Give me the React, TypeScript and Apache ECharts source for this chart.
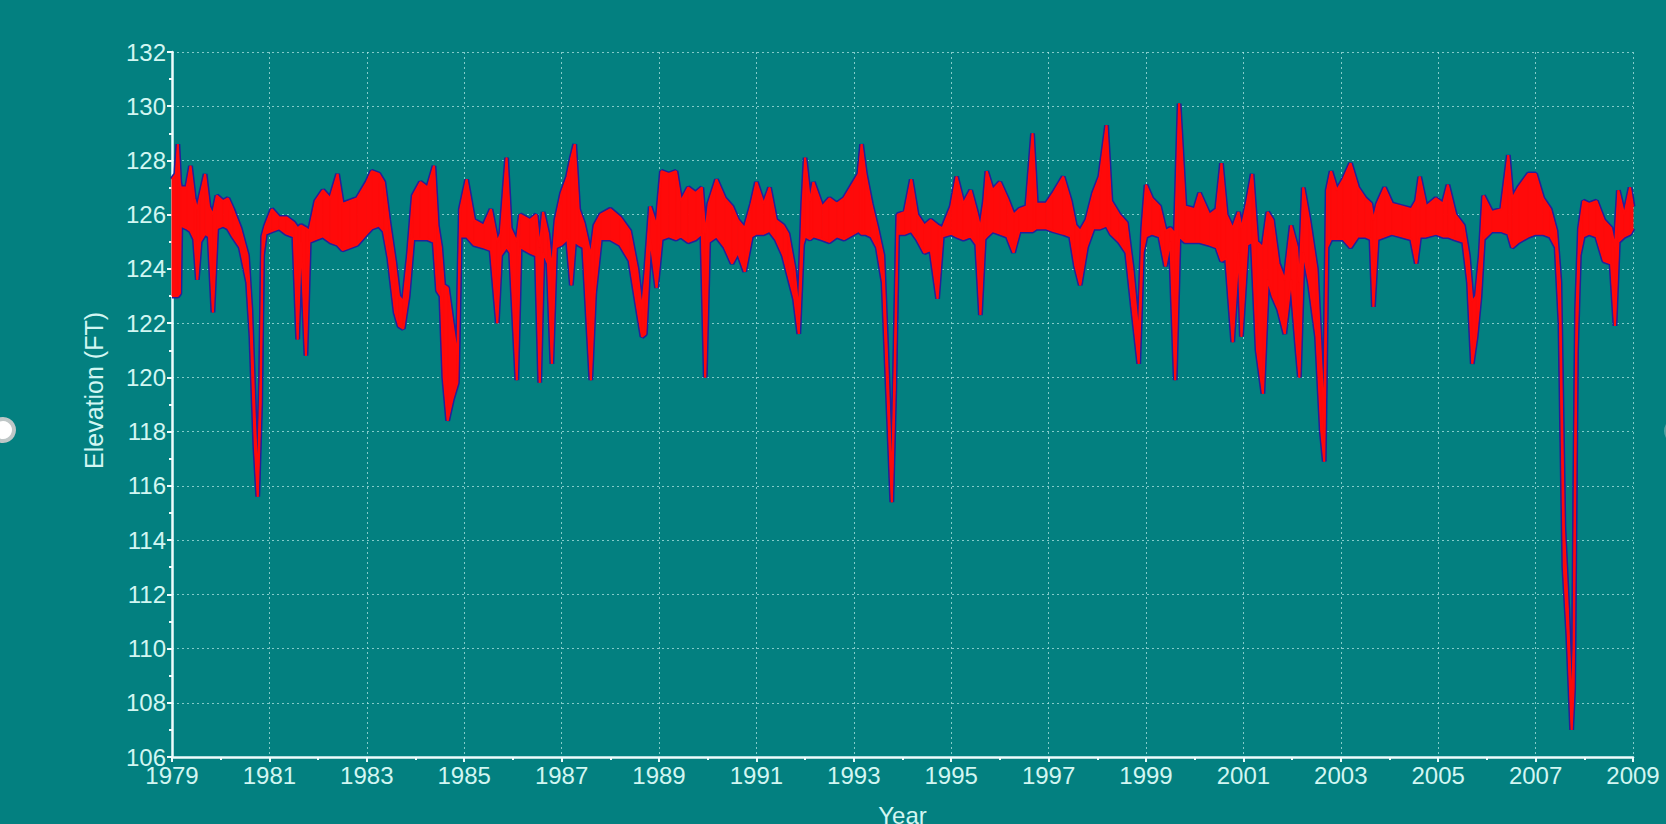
import React, { useEffect, useRef } from "react";
import * as echarts from "echarts";

// Decimal year of each reading
const years = [
  1979.0, 1979.08, 1979.12, 1979.16, 1979.18, 1979.3, 1979.38, 1979.46, 1979.52, 1979.58,
  1979.68, 1979.76, 1979.84, 1979.92, 1980.05, 1980.15, 1980.25, 1980.4, 1980.55, 1980.62,
  1980.7, 1980.76, 1980.82, 1980.86, 1980.92, 1981.05, 1981.2, 1981.35, 1981.5, 1981.58,
  1981.65, 1981.75, 1981.82, 1981.95, 1982.1, 1982.25, 1982.4, 1982.5, 1982.65, 1982.8,
  1983.0, 1983.1, 1983.25, 1983.35, 1983.45, 1983.58, 1983.66, 1983.75, 1983.85, 1983.95,
  1984.1, 1984.25, 1984.38, 1984.45, 1984.52, 1984.58, 1984.66, 1984.76, 1984.86, 1984.92,
  1985.05, 1985.2, 1985.4, 1985.55, 1985.68, 1985.75, 1985.87, 1985.95, 1986.08, 1986.15,
  1986.35, 1986.48, 1986.55, 1986.62, 1986.72, 1986.8, 1986.88, 1987.0, 1987.12, 1987.2,
  1987.27, 1987.35, 1987.45, 1987.6, 1987.68, 1987.8, 1988.0, 1988.2, 1988.4, 1988.55,
  1988.65, 1988.72, 1988.82, 1988.95, 1989.05, 1989.2, 1989.35, 1989.45, 1989.6, 1989.75,
  1989.88, 1989.95, 1990.02, 1990.18, 1990.35, 1990.5, 1990.62, 1990.76, 1990.9, 1991.0,
  1991.15, 1991.27, 1991.4, 1991.55, 1991.65, 1991.78, 1991.87, 1991.95, 1992.0, 1992.1,
  1992.17, 1992.35, 1992.5, 1992.65, 1992.8, 1993.0, 1993.1, 1993.16, 1993.24, 1993.36,
  1993.48, 1993.6, 1993.7, 1993.78, 1993.84, 1993.9, 1994.05, 1994.18, 1994.3, 1994.45,
  1994.58, 1994.72, 1994.82, 1995.0, 1995.11, 1995.25, 1995.4, 1995.52, 1995.6, 1995.68,
  1995.73, 1995.85, 1996.0, 1996.15, 1996.28, 1996.4, 1996.55, 1996.67, 1996.75, 1996.95,
  1997.1, 1997.3, 1997.45, 1997.55, 1997.65, 1997.78, 1997.92, 1998.05, 1998.19, 1998.28,
  1998.45, 1998.6, 1998.72, 1998.85, 1998.93, 1999.0, 1999.12, 1999.28, 1999.4, 1999.5,
  1999.6, 1999.68, 1999.8, 2000.0, 2000.1, 2000.3, 2000.45, 2000.55, 2000.65, 2000.78,
  2000.9, 2000.96, 2001.08, 2001.18, 2001.28, 2001.4, 2001.5, 2001.6, 2001.72, 2001.85,
  2001.98, 2002.1, 2002.15, 2002.23, 2002.35, 2002.5, 2002.6, 2002.66, 2002.72, 2002.8,
  2002.92, 2003.05, 2003.2, 2003.35, 2003.5, 2003.62, 2003.67, 2003.75, 2003.9, 2004.05,
  2004.25, 2004.45, 2004.55, 2004.62, 2004.75, 2004.95, 2005.1, 2005.2, 2005.35, 2005.52,
  2005.62, 2005.7, 2005.78, 2005.86, 2005.93, 2006.1, 2006.3, 2006.44, 2006.52, 2006.65,
  2006.85, 2007.0, 2007.15, 2007.3, 2007.42, 2007.5, 2007.58, 2007.66, 2007.74, 2007.78,
  2007.81, 2007.84, 2007.9, 2007.98, 2008.1, 2008.25, 2008.4, 2008.55, 2008.63, 2008.7,
  2008.82, 2008.94, 2009.0,
];

// Lower envelope of the elevation (ft)
const lowLevel = [
  123.0, 123.0, 123.0, 123.1, 125.6, 125.5, 125.4, 125.1, 123.6, 125.0,
  125.3, 125.2, 122.4, 125.5, 125.6, 125.5, 125.2, 124.8, 123.5, 121.5,
  117.5, 115.6, 119.0, 124.5, 125.3, 125.4, 125.5, 125.3, 125.2, 121.4,
  125.0, 120.8, 125.0, 125.1, 125.2, 125.0, 124.9, 124.7, 124.8, 124.9,
  125.3, 125.5, 125.6, 125.4, 124.4, 122.4, 121.9, 121.8, 123.0, 125.1,
  125.1, 125.1, 125.0, 123.2, 123.0, 120.0, 118.4, 119.2, 119.8, 125.2,
  125.2, 124.9, 124.8, 124.7, 122.0, 124.5, 124.8, 124.6, 119.9, 124.8,
  124.6, 124.5, 119.8, 124.6, 124.2, 120.5, 124.8, 124.9, 125.1, 123.4,
  125.0, 124.9, 124.8, 119.9, 123.1, 125.1, 125.1, 124.9, 124.3, 122.6,
  121.5, 121.6, 125.1, 123.3, 125.1, 125.2, 125.1, 125.2, 125.0, 125.1,
  125.3, 120.0, 125.0, 125.2, 124.8, 124.2, 124.6, 123.9, 125.2, 125.3,
  125.3, 125.4, 125.1, 124.5, 123.8, 122.9, 121.6, 124.9, 125.2, 125.1,
  125.2, 125.1, 125.0, 125.2, 125.1, 125.3, 125.4, 125.3, 125.3, 125.2,
  124.8, 123.5, 119.0, 115.4, 119.5, 125.3, 125.3, 125.4, 125.1, 124.6,
  124.7, 122.9, 125.2, 125.3, 125.2, 125.1, 125.2, 124.9, 122.3, 125.1,
  125.2, 125.4, 125.3, 125.2, 124.6, 125.4, 125.4, 125.4, 125.5, 125.5,
  125.4, 125.3, 125.2, 124.1, 123.4, 124.8, 125.5, 125.5, 125.6, 125.3,
  125.0, 124.6, 122.6, 120.5, 124.6, 125.2, 125.3, 125.2, 124.1, 125.0,
  119.9, 125.2, 125.0, 125.0, 125.0, 124.9, 124.8, 124.3, 124.4, 121.3,
  124.6, 121.5, 124.9, 125.0, 121.0, 119.4, 123.6, 123.0, 122.5, 121.6,
  123.6, 121.0, 120.0, 124.6, 123.5, 121.5, 118.0, 116.9, 124.8, 125.1,
  125.1, 125.1, 124.8, 125.2, 125.2, 125.1, 122.6, 125.1, 125.2, 125.3,
  125.2, 125.1, 124.2, 125.2, 125.2, 125.3, 125.2, 125.2, 125.1, 125.0,
  123.5, 120.5, 121.5, 123.0, 125.1, 125.4, 125.4, 125.3, 124.8, 125.0,
  125.2, 125.3, 125.3, 125.2, 124.8, 122.0, 113.0, 110.5, 107.0, 108.5,
  115.0, 121.0, 124.5, 125.2, 125.3, 125.2, 124.3, 124.2, 121.9, 125.0,
  125.2, 125.3, 125.5,
];

// Upper envelope of the elevation (ft)
const highLevel = [
  127.3, 127.5, 128.6, 127.2, 127.0, 127.0, 127.8, 126.6, 126.2, 126.7,
  127.5, 126.3, 126.0, 126.7, 126.5, 126.6, 126.2, 125.5, 124.5, 122.5,
  118.5, 116.2, 120.0, 125.2, 125.6, 126.2, 125.9, 125.9, 125.7, 125.5,
  125.6, 125.5, 125.4, 126.5, 126.9, 126.6, 127.5, 126.4, 126.5, 126.6,
  127.2, 127.6, 127.5, 127.2, 125.8, 124.2, 123.0, 122.8, 124.5, 126.7,
  127.2, 127.0, 127.8, 125.6, 124.8, 123.4, 123.3, 122.0, 120.8, 126.2,
  127.3, 125.8, 125.6, 126.2, 125.0, 125.3, 128.1, 125.5, 125.0, 126.0,
  125.8, 126.0, 124.8, 126.1, 125.3, 124.0, 125.8, 126.8, 127.4, 128.1,
  128.6, 126.2, 125.7, 124.5, 125.6, 126.0, 126.2, 125.9, 125.4, 124.0,
  122.5, 123.8, 126.3, 125.6, 127.6, 127.5, 127.6, 126.5, 127.0, 126.8,
  127.0, 125.3, 126.4, 127.3, 126.6, 126.3, 125.8, 125.5, 126.4, 127.2,
  126.4, 127.0, 125.8, 125.6, 125.3, 124.0, 122.4, 126.4, 128.1, 126.5,
  127.2, 126.3, 126.6, 126.4, 126.6, 127.2, 127.5, 128.6, 127.5, 126.4,
  125.5, 124.5, 120.0, 116.0, 120.5, 126.0, 126.1, 127.3, 126.0, 125.6,
  125.8, 125.6, 125.5, 126.3, 127.4, 126.4, 126.9, 126.1, 125.5, 126.5,
  127.6, 126.9, 127.2, 126.6, 126.0, 126.2, 126.3, 129.0, 126.4, 126.4,
  126.8, 127.4, 126.5, 125.6, 125.4, 125.8, 126.8, 127.4, 129.3, 126.5,
  126.0, 125.7, 124.0, 121.5, 125.5, 127.1, 126.6, 126.3, 125.4, 125.5,
  125.3, 130.1, 126.3, 126.2, 126.8, 126.0, 126.2, 127.9, 126.0, 125.5,
  126.1, 125.5, 126.5, 127.5, 125.0, 124.8, 126.1, 125.8, 124.2, 123.6,
  125.6, 124.8, 123.5, 127.0, 125.8, 124.0, 120.5, 118.5, 126.9, 127.6,
  126.9, 127.3, 127.9, 127.0, 126.6, 126.4, 125.8, 126.4, 127.0, 126.4,
  126.3, 126.2, 126.5, 127.4, 126.3, 126.6, 126.4, 127.1, 126.0, 125.6,
  124.5, 122.8, 123.0, 124.5, 126.7, 126.1, 126.2, 128.2, 126.6, 127.0,
  127.5, 127.5, 126.6, 126.2, 125.4, 123.5, 114.5, 111.5, 107.8, 110.0,
  117.0, 122.5, 125.5, 126.5, 126.4, 126.5, 125.8, 125.5, 124.8, 126.9,
  126.0, 127.0, 126.3,
];

const START_YEAR = 1979;
const END_YEAR = 2009;
const Y_MIN = 106;
const Y_MAX = 132;

const TEAL = "#038080";
const NAVY = "#24209a";
const RED = "#ff0a0a";
const LABEL = "#d2f6f2";
const FONT = "Liberation Sans, Arial, sans-serif";

export default function App() {
  const ref = useRef<HTMLDivElement>(null);

  useEffect(() => {
    if (!ref.current) return;
    const chart = echarts.init(ref.current, undefined, { renderer: "svg" });
    const xs = years.map((y) => y - START_YEAR);
    const hiData = xs.map((x, i) => [x, highLevel[i]]);
    const loData = xs.map((x, i) => [x, lowLevel[i]]);
    const bandData = xs.map((x, i) => [x, lowLevel[i], highLevel[i]]);

    const axisCommon = {
      axisLine: { show: true, onZero: false, lineStyle: { color: "#eefcfc", width: 2.5 } },
      axisTick: { show: true, length: 5, lineStyle: { color: "#eefcfc", width: 2 } },
      minorTick: { show: true, splitNumber: 2, length: 3, lineStyle: { color: "#eefcfc", width: 2 } },
      splitLine: {
        show: true,
        lineStyle: { color: "rgba(185,235,232,0.7)", width: 1, type: [2, 3] },
      },
      axisLabel: { color: LABEL, fontFamily: FONT, fontSize: 24 },
    };

    chart.setOption({
      animation: false,
      backgroundColor: TEAL,
      grid: {
        left: 172,
        top: 52,
        width: 1461,
        height: 705,
        containLabel: false,
        outerBoundsMode: "none",
      },
      xAxis: {
        type: "value",
        min: 0,
        max: END_YEAR - START_YEAR,
        interval: 2,
        name: "Year",
        nameLocation: "middle",
        nameGap: 46,
        nameTextStyle: { color: LABEL, fontFamily: FONT, fontSize: 24 },
        ...axisCommon,
        axisLabel: {
          ...axisCommon.axisLabel,
          margin: 6,
          formatter: (v: number) => String(START_YEAR + v),
        },
      },
      yAxis: {
        type: "value",
        min: Y_MIN,
        max: Y_MAX,
        interval: 2,
        name: "Elevation (FT)",
        nameLocation: "middle",
        nameGap: 66,
        nameTextStyle: {
          color: LABEL,
          fontFamily: FONT,
          fontSize: 25,
          padding: [0, 0, 0, 28],
        },
        ...axisCommon,
        axisLabel: { ...axisCommon.axisLabel, margin: 6 },
      },
      graphic: [
        {
          type: "circle",
          shape: { cx: 3, cy: 430, r: 13 },
          style: { fill: "#bfc7c7" },
          z: 100,
        },
        {
          type: "circle",
          shape: { cx: 3, cy: 430, r: 9 },
          style: { fill: "#ffffff" },
          z: 101,
        },
        {
          type: "circle",
          shape: { cx: 1677, cy: 431, r: 13 },
          style: { fill: "rgba(170,200,200,0.45)" },
          z: 100,
        },
      ],
      series: [
        {
          name: "Low outline",
          type: "line",
          data: loData,
          showSymbol: false,
          symbol: "none",
          lineStyle: { color: NAVY, width: 5 },
          z: 2,
          silent: true,
        },
        {
          name: "High outline",
          type: "line",
          data: hiData,
          showSymbol: false,
          symbol: "none",
          lineStyle: { color: NAVY, width: 5 },
          z: 2,
          silent: true,
        },
        {
          name: "Range",
          type: "custom",
          coordinateSystem: "cartesian2d",
          data: bandData,
          encode: { x: 0, y: [1, 2] },
          z: 3,
          silent: true,
          renderItem: (params: any, api: any) => {
            const i = params.dataIndex;
            if (i >= bandData.length - 1) return null;
            const n = bandData[i + 1];
            const a = api.coord([api.value(0), api.value(2)]);
            const b = api.coord([n[0], n[2]]);
            const c = api.coord([n[0], n[1]]);
            const d = api.coord([api.value(0), api.value(1)]);
            return {
              type: "polygon",
              shape: { points: [a, b, c, d] },
              style: { fill: RED, stroke: RED, lineWidth: 1 },
            };
          },
        },
        {
          name: "Low",
          type: "line",
          data: loData,
          showSymbol: false,
          symbol: "none",
          lineStyle: { color: RED, width: 2 },
          z: 4,
          silent: true,
        },
        {
          name: "High",
          type: "line",
          data: hiData,
          showSymbol: false,
          symbol: "none",
          lineStyle: { color: RED, width: 2 },
          z: 4,
          silent: true,
        },
      ],
    });

    return () => chart.dispose();
  }, []);

  return (
    <div
      ref={ref}
      style={{ position: "absolute", left: 0, top: 0, width: 1666, height: 824 }}
    />
  );
}
